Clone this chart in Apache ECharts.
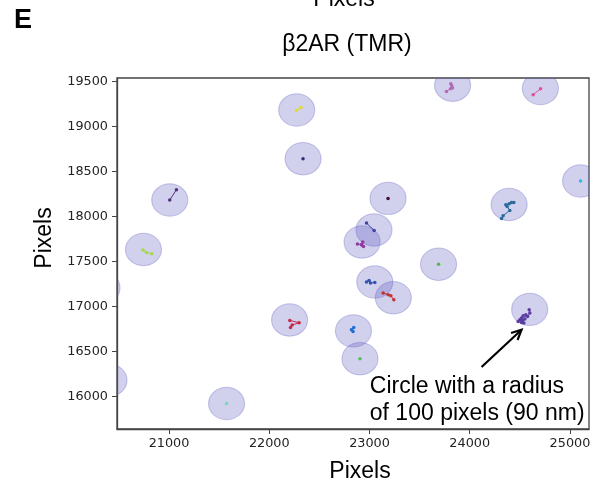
<!DOCTYPE html>
<html>
<head>
<meta charset="utf-8">
<script src="https://cdn.jsdelivr.net/npm/echarts@6/dist/echarts.min.js"></script>
<style>
html,body{margin:0;padding:0;background:#fff;}
#chart{width:597px;height:487px;}
</style>
</head>
<body>
<div id="chart"></div>
<script>
// ---- data ----
const xTicks = [21000, 22000, 23000, 24000, 25000];
const yTicks = [16000, 16500, 17000, 17500, 18000, 18500, 19000, 19500];
const circleRadius = 180; // in pixels (image units), as drawn
const circleX = [22274, 22337, 21007, 20745, 20331, 20401, 22203, 21574, 23829, 24705, 25106, 23185, 23045, 22926, 23689, 23053, 23238, 22840, 22905, 24598, 24393];
const circleY = [19182, 18641, 18182, 17633, 17208, 16180, 16849, 15921, 19458, 19421, 18393, 18200, 17849, 17716, 17469, 17271, 17097, 16728, 16419, 16967, 18133];

const track1X = [22271, 22317];               const track1Y = [19178, 19211];
const track2X = [22337];                      const track2Y = [18641];
const track3X = [21007, 21074];               const track3Y = [18182, 18297];
const track4X = [20740, 20774, 20827];        const track4Y = [17627, 17600, 17586];
const track5X = [22205, 22298, 22228, 22212]; const track5Y = [16844, 16819, 16793, 16767];
const track6X = [21574];                      const track6Y = [15921];
const track7X = [23768, 23808, 23828, 23821, 23811]; const track7Y = [19389, 19419, 19426, 19452, 19474];
const track8X = [24633, 24707];               const track8Y = [19352, 19419];
const track9X = [25106];                      const track9Y = [18393];
const track10X = [23185];                     const track10Y = [18200];
const track11X = [22970, 23046];              const track11Y = [17927, 17844];
const track12X = [22880, 22920, 22933, 22920, 22940]; const track12Y = [17693, 17686, 17716, 17686, 17667];
const track13X = [23689];                     const track13Y = [17469];
const track14X = [22970, 22996, 23010, 23053]; const track14Y = [17271, 17289, 17260, 17267];
const track15X = [23136, 23186, 23213, 23243]; const track15Y = [17149, 17130, 17119, 17074];
const track16X = [22843, 22820, 22836];       const track16Y = [16767, 16741, 16722];
const track17X = [22905];                     const track17Y = [16419];
const track18X = [24593, 24600, 24577, 24560, 24533, 24550, 24527, 24500, 24483, 24517, 24540, 24517];
const track18Y = [16963, 16927, 16889, 16908, 16897, 16860, 16844, 16852, 16833, 16822, 16816, 16871];
const track19X = [24440, 24417, 24393, 24360, 24373, 24400, 24333, 24317];
const track19Y = [18156, 18156, 18141, 18130, 18111, 18067, 18008, 17978];

const annotationText = 'Circle with a radius\nof 100 pixels (90 nm)';
const arrowFrom = [24118, 16327];
const arrowTo = [24517, 16741];
const textAnchor = [23003, 15960];

// ---- styles ----
const trackColors = ['#e3da2c', '#2b2d7a', '#56307a', '#a5d84a', '#c5284a', '#6ddbc0', '#b06cb5', '#e0509a', '#2fb5f0', '#400a40', '#3e44a0', '#8e3a9e', '#4cbc44', '#3452b0', '#c43232', '#1f6fd0', '#50c050', '#5b3ca0', '#2b6a9a'];
const tracksX = [track1X, track2X, track3X, track4X, track5X, track6X, track7X, track8X, track9X, track10X, track11X, track12X, track13X, track14X, track15X, track16X, track17X, track18X, track19X];
const tracksY = [track1Y, track2Y, track3Y, track4Y, track5Y, track6Y, track7Y, track8Y, track9Y, track10Y, track11Y, track12Y, track13Y, track14Y, track15Y, track16Y, track17Y, track18Y, track19Y];

const TXT = 'Liberation Sans, Arial, sans-serif';
const chart = echarts.init(document.getElementById('chart'), null, {renderer: 'canvas'});

const series = [];
series.push({
  type: 'custom',
  clip: true,
  z: 1,
  data: circleX.map((x, i) => [x, circleY[i]]),
  renderItem: function (params, api) {
    const c = api.coord([api.value(0), api.value(1)]);
    const rx = api.size([circleRadius, 0])[0];
    const ry = api.size([0, circleRadius])[1];
    return {
      type: 'circle',
      x: c[0], y: c[1],
      scaleY: ry / rx,
      shape: {cx: 0, cy: 0, r: rx},
      style: {fill: 'rgba(90,85,190,0.28)', stroke: 'rgba(90,85,190,0.30)', lineWidth: 1.1}
    };
  }
});
tracksX.forEach((tx, i) => {
  series.push({
    type: 'line',
    z: 3,
    data: tx.map((x, j) => [x, tracksY[i][j]]),
    symbol: 'circle',
    symbolSize: 3.5,
    showAllSymbol: true,
    itemStyle: {color: trackColors[i]},
    lineStyle: {color: trackColors[i], width: 1},
    animation: false,
    silent: true
  });
});
series.push({
  type: 'custom',
  clip: false,
  z: 5,
  data: [[arrowFrom[0], arrowFrom[1], arrowTo[0], arrowTo[1]]],
  renderItem: function (params, api) {
    const a = api.coord([api.value(0), api.value(1)]);
    const b = api.coord([api.value(2), api.value(3)]);
    const ang = Math.atan2(b[1] - a[1], b[0] - a[0]);
    const L = 11, w = 0.45;
    const h1 = [b[0] - L * Math.cos(ang - w), b[1] - L * Math.sin(ang - w)];
    const h2 = [b[0] - L * Math.cos(ang + w), b[1] - L * Math.sin(ang + w)];
    const t = api.coord(textAnchor);
    return {
      type: 'group',
      children: [
        {type: 'line', shape: {x1: a[0], y1: a[1], x2: b[0], y2: b[1]}, style: {stroke: '#000', lineWidth: 2.2}},
        {type: 'polyline', shape: {points: [h1, b, h2]}, style: {stroke: '#000', lineWidth: 2.2, fill: null}},
        {type: 'text', x: t[0], y: t[1], style: {text: annotationText, font: '23px ' + TXT, fill: '#000', align: 'left', verticalAlign: 'middle', lineHeight: 27.3}}
      ]
    };
  }
});

chart.setOption({
  animation: false,
  backgroundColor: '#fff',
  grid: {left: 117, right: 8, top: 78, bottom: 58, show: true, borderColor: '#444', borderWidth: 1.3, backgroundColor: 'transparent'},
  xAxis: {
    type: 'value', min: 20481, max: 25190,
    axisLine: {show: true, lineStyle: {color: '#444', width: 1.3}},
    axisTick: {show: true, length: 5, customValues: xTicks, lineStyle: {color: '#444', width: 1}},
    axisLabel: {customValues: xTicks, margin: 8, color: '#222', fontSize: 12.8, fontFamily: 'DejaVu Sans', formatter: v => String(v)},
    splitLine: {show: false}
  },
  yAxis: {
    type: 'value', min: 15638, max: 19538,
    axisLine: {show: true, lineStyle: {color: '#444', width: 1.3}},
    axisTick: {show: true, length: 5, customValues: yTicks, lineStyle: {color: '#444', width: 1}},
    axisLabel: {customValues: yTicks, margin: 9, color: '#222', fontSize: 12.8, fontFamily: 'DejaVu Sans', formatter: v => String(v)},
    splitLine: {show: false}
  },
  graphic: [
    {type: 'text', x: 23, y: 21, style: {text: 'E', font: 'bold 27px ' + TXT, fill: '#000', align: 'center', verticalAlign: 'middle'}},
    {type: 'text', x: 344, y: 0, style: {text: 'Pixels', font: '23px ' + TXT, fill: '#000', align: 'center', verticalAlign: 'middle'}},
    {type: 'text', x: 347, y: 45, style: {text: 'β2AR (TMR)', font: '23px ' + TXT, fill: '#000', align: 'center', verticalAlign: 'middle'}},
    {type: 'text', x: 360, y: 472, style: {text: 'Pixels', font: '23px ' + TXT, fill: '#000', align: 'center', verticalAlign: 'middle'}},
    {type: 'text', x: 45, y: 238, rotation: Math.PI / 2, style: {text: 'Pixels', font: '23px ' + TXT, fill: '#000', align: 'center', verticalAlign: 'middle'}}
  ],
  series: series
});
</script>
</body>
</html>
